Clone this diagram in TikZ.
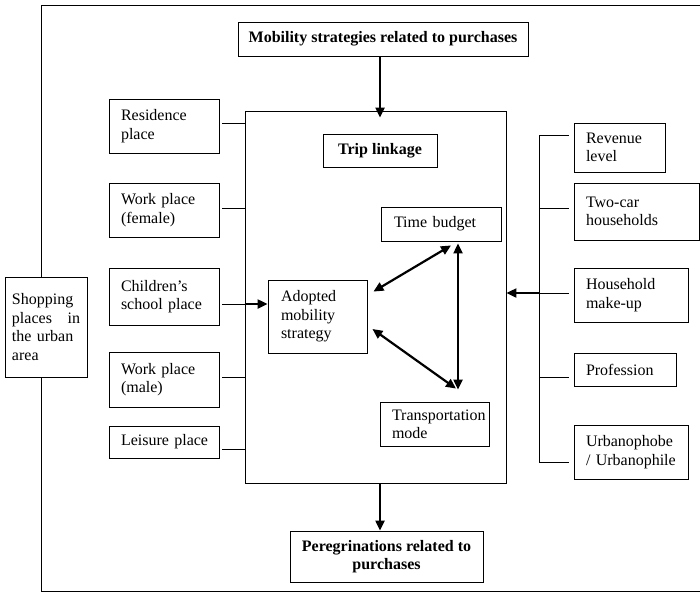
\documentclass[tikz,border=0pt]{standalone}
\usepackage{fontspec}
\setmainfont{Liberation Serif}
\usetikzlibrary{arrows.meta}
\hyphenpenalty=10000
\exhyphenpenalty=10000
\begin{document}
\begin{tikzpicture}[x=1pt,y=-1pt,
  txt/.style={font=\fontsize{16}{18.4}\selectfont},
  box/.style={txt, draw, line width=0.9pt, inner ysep=0pt, inner xsep=12pt, align=left},
  bbox/.style={draw, line width=0.9pt, inner ysep=0pt, inner xsep=4pt, align=center, font=\fontsize{16}{18.4}\selectfont\bfseries},
  thin/.style={line width=0.9pt},
  heavy/.style={line width=2.2pt, -{Triangle[length=10pt,width=9pt]}},
  dheavy/.style={line width=2.2pt, {Triangle[length=10pt,width=9pt]}-{Triangle[length=10pt,width=9pt]}}
]
\useasboundingbox (0,0) rectangle (700,592);

% central frame
\node[draw, thin, minimum width=261pt, minimum height=372pt, inner sep=0pt] (main) at (375.5,297) {};

% top and bottom boxes
\node[bbox, minimum width=290pt, minimum height=34pt] (mob) at (383,39) {Mobility strategies related to purchases};
\node[bbox, minimum width=114pt, minimum height=33pt] (trip) at (380,150.5) {Trip linkage};
\node[bbox, minimum width=193pt, minimum height=51pt] (per) at (386.5,556.5) {Peregrinations related to\\purchases};

% inner boxes
\node[box, inner xsep=13pt, minimum width=120pt, minimum height=34pt, text width=94pt] (time) at (441,224) {\mbox{Time budget}};
\node[box, inner xsep=13pt, minimum width=99pt, minimum height=73pt, text width=73pt] (adopted) at (317.5,316.5) {Adopted\\mobility\\strategy};
\node[box, minimum width=109pt, minimum height=44pt, text width=85pt] (transp) at (434.5,424) {\mbox{Transportation}\\mode};

% left boxes
\node[box, minimum width=110pt, minimum height=54pt, text width=86pt] (res) at (164,126) {Residence\\place};
\node[box, minimum width=110pt, minimum height=54pt, text width=86pt] (wf) at (164,210) {Work place\\(female)};
\node[box, minimum width=110pt, minimum height=57pt, text width=86pt] (child) at (164,296.5) {Children’s\\\mbox{school place}};
\node[box, minimum width=110pt, minimum height=55pt, text width=86pt] (wm) at (164,379.5) {Work place\\(male)};
\node[box, minimum width=110pt, minimum height=32pt, text width=86pt] (leis) at (164,442) {\mbox{Leisure place}};
\node[box, inner xsep=7pt, minimum width=82pt, minimum height=100pt, text width=68pt] (shop) at (46,327) {Shopping\\places\hfill in\\the urban\\area};

% right boxes
\node[box, minimum width=91pt, minimum height=49pt, text width=67pt] (rev) at (619.5,147.5) {Revenue\\level};
\node[box, minimum width=125pt, minimum height=57pt, text width=101pt] (twocar) at (636.5,211.5) {Two-car\\households};
\node[box, minimum width=114pt, minimum height=54pt, text width=90pt] (house) at (631,295) {Household\\make-up};
\node[box, minimum width=102pt, minimum height=33pt, text width=78pt] (prof) at (625,369.5) {Profession};
\node[box, minimum width=114pt, minimum height=54pt, text width=90pt] (urb) at (631,452) {\mbox{Urbanophobe}\\\mbox{/ Urbanophile}};

% outer frame
\coordinate (fl) at (41,5);
\coordinate (fr) at (700,5);
\coordinate (gl) at (41,591);
\coordinate (gr) at (700,591);
\draw[thin] (fr) -- (fl) -- (fl |- shop.north);
\draw[thin] (fl |- shop.south) -- (gl) -- (gr);

% left connectors
\draw[thin] ([xshift=3pt,yshift=3pt]res.east) -- ([yshift=3pt]res.east -| main.west);
\draw[thin] ([xshift=3pt,yshift=2pt]wf.east) -- ([yshift=2pt]wf.east -| main.west);
\draw[thin] ([xshift=3pt,yshift=-7.5pt]child.east) -- ([yshift=-7.5pt]child.east -| main.west);
\draw[heavy] ([yshift=-7.5pt]child.east -| main.west) -- ([yshift=-7.5pt]child.east -| adopted.west);
\draw[thin] ([xshift=3pt,yshift=2.5pt]wm.east) -- ([yshift=2.5pt]wm.east -| main.west);
\draw[thin] ([xshift=3pt,yshift=-7pt]leis.east) -- ([yshift=-7pt]leis.east -| main.west);

% right bracket
\coordinate (b1) at (539,135);
\coordinate (b5) at (539,462);
\draw[thin] ([xshift=-5pt,yshift=12.5pt]rev.west) -- (b1) -- (b5) -- ([xshift=-5pt,yshift=-10pt]urb.west);
\draw[thin] ([xshift=-5pt,yshift=3.5pt]twocar.west) -- ([yshift=3.5pt]twocar.west -| b1);
\draw[thin] ([xshift=-5pt,yshift=2pt]house.west) -- ([yshift=2pt]house.west -| b1);
\draw[thin] ([xshift=-5pt,yshift=-7.5pt]prof.west) -- ([yshift=-7.5pt]prof.west -| b1);
\draw[heavy] ([yshift=2pt]house.west -| b1) -- ([yshift=2pt]house.west -| main.east);

% top and bottom arrows
\draw[heavy] ([xshift=-3pt]mob.south) -- ([xshift=-3pt,yshift=-7pt]mob.south |- main.north);
\draw[heavy] ([xshift=4.5pt]main.south) -- ([xshift=-6.5pt]per.north);

% triangle of double arrows
\draw[dheavy] ([xshift=6pt,yshift=-12pt]adopted.north east) -- ([xshift=10pt,yshift=-4pt]time.south);
\draw[dheavy] ([xshift=17pt,yshift=-2pt]time.south) -- ([xshift=23.5pt,yshift=12pt]transp.north);
\draw[dheavy] ([xshift=5pt,yshift=-12.5pt]adopted.east) -- ([xshift=21.5pt,yshift=13pt]transp.north);
\end{tikzpicture}
\end{document}
